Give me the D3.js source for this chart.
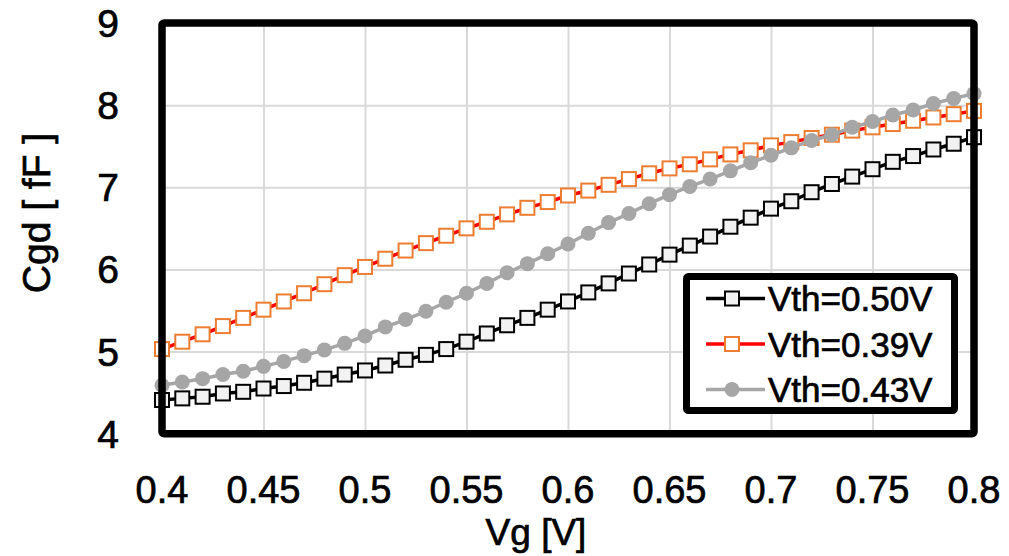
<!DOCTYPE html>
<html>
<head>
<meta charset="utf-8">
<script src="https://cdnjs.cloudflare.com/ajax/libs/d3/7.8.5/d3.min.js"></script>
<style>
  body { margin: 0; background: #fff; }
  text { font-family: "Liberation Sans", Arial, sans-serif; fill: #000; stroke: #000; stroke-width: 0.7px; }
</style>
</head>
<body>
<div id="chart"></div>
<script>
// Gate voltage sweep (x values)
const vg = [0.40, 0.41, 0.42, 0.43, 0.44, 0.45, 0.46, 0.47, 0.48, 0.49,
            0.50, 0.51, 0.52, 0.53, 0.54, 0.55, 0.56, 0.57, 0.58, 0.59,
            0.60, 0.61, 0.62, 0.63, 0.64, 0.65, 0.66, 0.67, 0.68, 0.69,
            0.70, 0.71, 0.72, 0.73, 0.74, 0.75, 0.76, 0.77, 0.78, 0.79, 0.80];

// Cgd values in fF
const cgd_050 = [4.41, 4.43, 4.45, 4.49, 4.51, 4.55, 4.58, 4.62, 4.67, 4.72,
                 4.77, 4.83, 4.90, 4.96, 5.03, 5.12, 5.22, 5.32, 5.41, 5.51,
                 5.61, 5.72, 5.83, 5.95, 6.06, 6.18, 6.29, 6.40, 6.52, 6.63,
                 6.74, 6.83, 6.94, 7.04, 7.13, 7.22, 7.31, 7.38, 7.46, 7.53, 7.61];
const cgd_039 = [5.03, 5.12, 5.21, 5.31, 5.41, 5.51, 5.61, 5.71, 5.82, 5.93,
                 6.03, 6.13, 6.23, 6.32, 6.41, 6.50, 6.58, 6.67, 6.75, 6.82,
                 6.90, 6.96, 7.03, 7.10, 7.17, 7.23, 7.28, 7.34, 7.40, 7.45,
                 7.51, 7.55, 7.60, 7.64, 7.69, 7.73, 7.77, 7.81, 7.85, 7.89, 7.93];
const cgd_043 = [4.59, 4.63, 4.67, 4.72, 4.76, 4.82, 4.88, 4.95, 5.02, 5.10,
                 5.19, 5.30, 5.39, 5.49, 5.60, 5.71, 5.83, 5.96, 6.07, 6.19,
                 6.31, 6.44, 6.57, 6.68, 6.80, 6.91, 7.01, 7.10, 7.20, 7.30,
                 7.39, 7.48, 7.57, 7.64, 7.73, 7.80, 7.88, 7.94, 8.02, 8.08, 8.14];

const series_names = ["Vth=0.50V", "Vth=0.39V", "Vth=0.43V"];

const x_ticks = [0.4, 0.45, 0.5, 0.55, 0.6, 0.65, 0.7, 0.75, 0.8];
const y_ticks = [4, 5, 6, 7, 8, 9];

const width = 1009, height = 556;
const plot = {left: 162, right: 974, top: 23, bottom: 433.7};

const styles = [
    {line: "#000000", stroke: "#000000", fill: "#f2f2f2", shape: "square"},
    {line: "#ff0000", stroke: "#ed7d31", fill: "#ffffff", shape: "square"},
    {line: "#a6a6a6", stroke: "none",    fill: "#a6a6a6", shape: "circle"}
];

const svg = d3.select("#chart").append("svg")
    .attr("width", width)
    .attr("height", height);

const x_scale = d3.scaleLinear().domain([0.4, 0.8]).range([plot.left, plot.right]);
const y_scale = d3.scaleLinear().domain([4, 9]).range([plot.bottom, plot.top]);

// Gridlines
svg.append("g")
    .attr("transform", "translate(0," + plot.bottom + ")")
    .call(d3.axisBottom(x_scale).tickValues(x_ticks).tickSize(-(plot.bottom - plot.top)).tickFormat(""))
    .call(g => g.select(".domain").remove())
    .call(g => g.selectAll("line").attr("stroke", "#d9d9d9").attr("stroke-width", 2));

svg.append("g")
    .attr("transform", "translate(" + plot.left + ",0)")
    .call(d3.axisLeft(y_scale).tickValues(y_ticks).tickSize(-(plot.right - plot.left)).tickFormat(""))
    .call(g => g.select(".domain").remove())
    .call(g => g.selectAll("line").attr("stroke", "#d9d9d9").attr("stroke-width", 2));

// Tick labels
svg.append("g").selectAll("text")
    .data(x_ticks)
    .join("text")
    .attr("x", d => x_scale(d))
    .attr("y", 503)
    .attr("text-anchor", "middle")
    .attr("font-size", 38)
    .text(d => d);

svg.append("g").selectAll("text")
    .data(y_ticks)
    .join("text")
    .attr("x", 119)
    .attr("y", d => y_scale(d) + 14)
    .attr("text-anchor", "end")
    .attr("font-size", 39)
    .text(d => d);

// Axis titles
svg.append("text")
    .attr("x", 536)
    .attr("y", 545)
    .attr("text-anchor", "middle")
    .attr("font-size", 37)
    .text("Vg [V]");

svg.append("text")
    .attr("transform", "translate(50,213) rotate(-90)")
    .attr("text-anchor", "middle")
    .attr("font-size", 39)
    .text("Cgd [ fF ]");

// Series
const all_series = [cgd_050, cgd_039, cgd_043];

function draw_marker(sel, st) {
    if (st.shape === "square") {
        sel.append("rect")
            .attr("x", -7).attr("y", -7)
            .attr("width", 14).attr("height", 14)
            .attr("fill", st.fill)
            .attr("stroke", st.stroke)
            .attr("stroke-width", 2);
    } else {
        sel.append("circle")
            .attr("r", 7.5)
            .attr("fill", st.fill);
    }
}

const line = d3.line()
    .x(d => x_scale(d[0]))
    .y(d => y_scale(d[1]));

all_series.forEach(function(vals, i) {
    const st = styles[i];
    const pts = vg.map((v, j) => [v, vals[j]]);
    const g = svg.append("g");
    g.append("path")
        .datum(pts)
        .attr("d", line)
        .attr("fill", "none")
        .attr("stroke", st.line)
        .attr("stroke-width", 3.5);
    g.selectAll("g.pt")
        .data(pts)
        .join("g")
        .attr("class", "pt")
        .attr("transform", d => "translate(" + x_scale(d[0]) + "," + y_scale(d[1]) + ")")
        .each(function() { draw_marker(d3.select(this), st); });
});

// Plot border
svg.append("rect")
    .attr("x", plot.left)
    .attr("y", plot.top)
    .attr("width", plot.right - plot.left)
    .attr("height", plot.bottom - plot.top)
    .attr("fill", "none")
    .attr("stroke", "#000")
    .attr("stroke-width", 7.5)
    .attr("rx", 2);

// Legend
const legend = svg.append("g");
legend.append("rect")
    .attr("x", 686.5).attr("y", 276.5)
    .attr("width", 268).attr("height", 134)
    .attr("fill", "#fff")
    .attr("stroke", "#000")
    .attr("stroke-width", 7)
    .attr("rx", 2);

series_names.forEach(function(name, i) {
    const st = styles[i];
    const cy = 298.5 + i * 45.5;
    const row = legend.append("g");
    row.append("line")
        .attr("x1", 706).attr("x2", 765)
        .attr("y1", cy).attr("y2", cy)
        .attr("stroke", st.line)
        .attr("stroke-width", 3.5);
    draw_marker(row.append("g").attr("transform", "translate(732," + cy + ")"), st);
    row.append("text")
        .attr("x", 768)
        .attr("y", cy + 12.5)
        .attr("font-size", 35)
        .text(name);
});
</script>
</body>
</html>
